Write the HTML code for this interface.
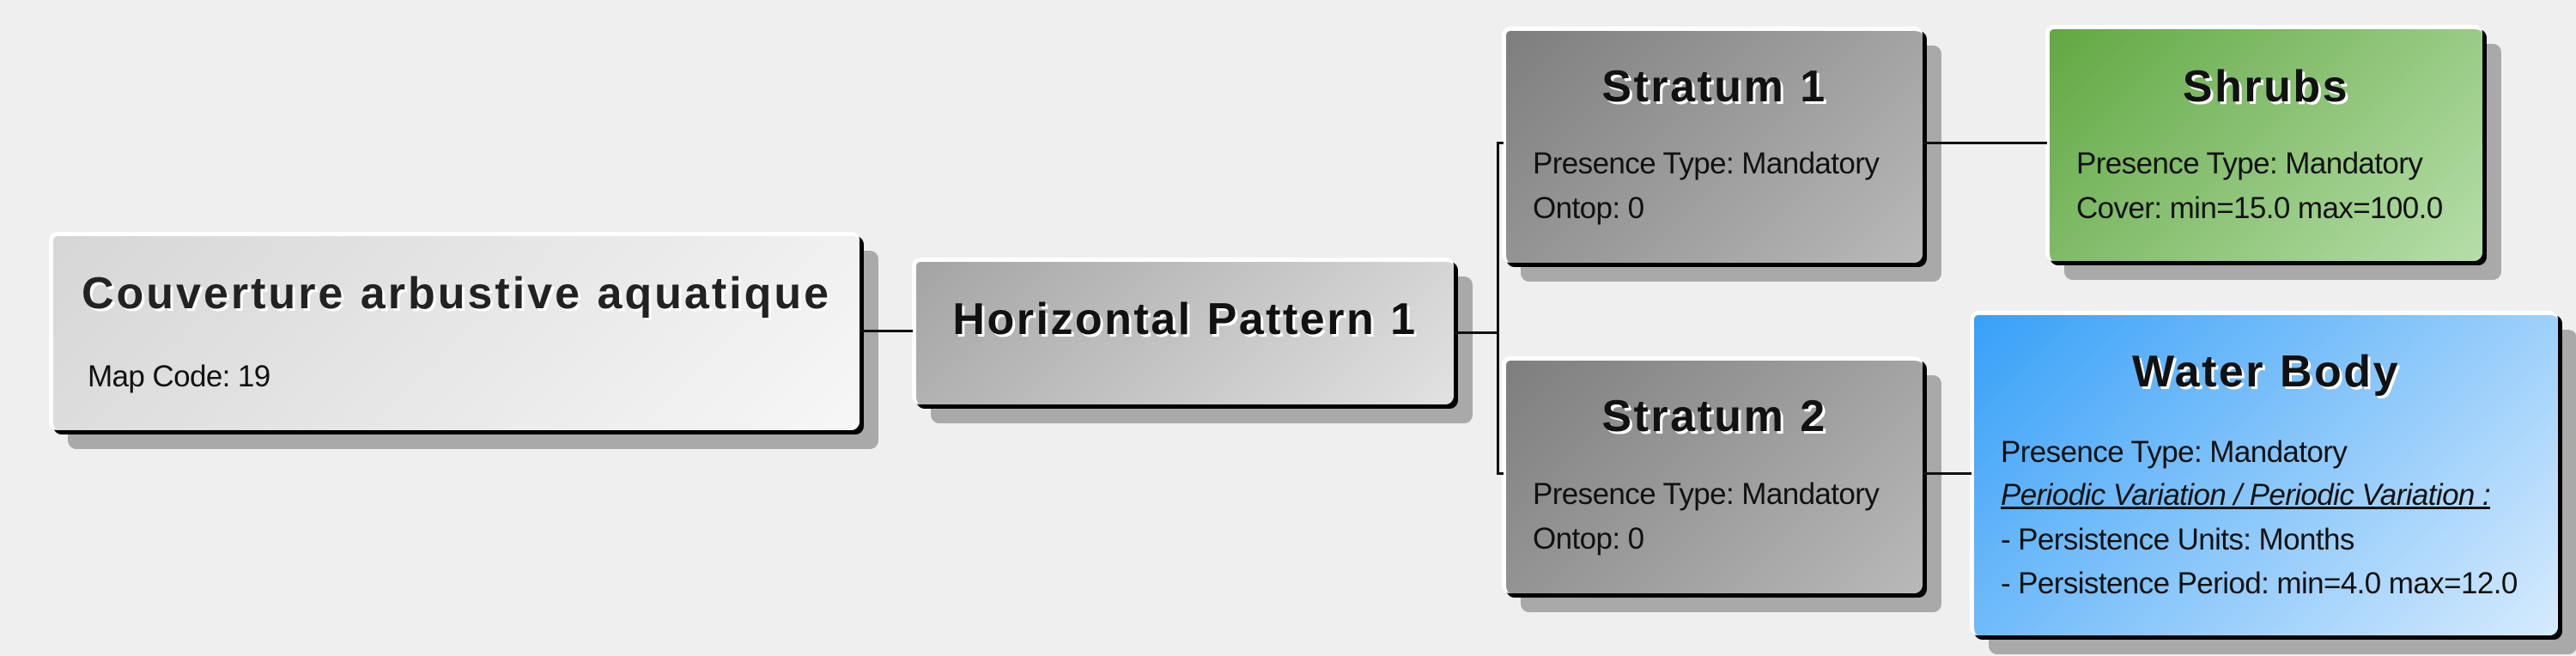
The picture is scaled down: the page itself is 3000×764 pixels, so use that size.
<!DOCTYPE html>
<html><head><meta charset="utf-8"><style>
body{margin:0;width:3000px;height:764px;background:#efefef;position:relative;overflow:hidden;font-family:"Liberation Sans",Arial,sans-serif;}
.b{position:absolute;box-sizing:border-box;border-radius:10px;border-top:5px solid #fff;border-left:5px solid #fff;box-shadow:5px 5px 0 #000,22px 22px 0 #a9a9a9;}
.t{position:absolute;left:-20px;right:-20px;text-align:center;font-weight:bold;color:#111;text-shadow:3px 3px 0 #fff;font-size:52px;letter-spacing:2.5px;line-height:1}
.l{position:absolute;font-size:35px;letter-spacing:-0.6px;color:#111;line-height:1;white-space:nowrap}
.h{position:absolute;height:3px;background:#111;z-index:5}
.v{position:absolute;width:3px;background:#111;z-index:5}
</style></head><body>
<div class="h" style="left:1001px;top:384px;width:62px"></div>
<div class="h" style="left:1693px;top:386px;width:52px"></div>
<div class="v" style="left:1743px;top:166px;height:386px"></div>
<div class="h" style="left:1743px;top:165px;width:8px"></div>
<div class="h" style="left:1743px;top:550px;width:8px"></div>
<div class="h" style="left:2239px;top:165px;width:145px"></div>
<div class="h" style="left:2239px;top:550px;width:57px"></div>

<div class="b" style="left:57px;top:270px;width:944px;height:231px;background:linear-gradient(135deg,#d6d6d6,#f7f7f7)">
<div class="t" style="top:41px;font-size:52px;letter-spacing:3px;color:#222">Couverture arbustive aquatique</div>
<div class="l" style="left:40px;top:146px">Map Code: 19</div></div>

<div class="b" style="left:1062px;top:300px;width:631px;height:171px;background:linear-gradient(135deg,#a4a4a4,#e2e2e2)">
<div class="t" style="top:41px">Horizontal Pattern 1</div></div>

<div class="b" style="left:1749px;top:31px;width:490px;height:275px;background:linear-gradient(135deg,#7e7e7e,#b9b9b9)">
<div class="t" style="top:39px">Stratum 1</div>
<div class="l" style="left:31px;top:137px">Presence Type: Mandatory</div>
<div class="l" style="left:31px;top:189px">Ontop: 0</div></div>

<div class="b" style="left:1749px;top:415px;width:490px;height:276px;background:linear-gradient(135deg,#7e7e7e,#b9b9b9)">
<div class="t" style="top:39px">Stratum 2</div>
<div class="l" style="left:31px;top:138px">Presence Type: Mandatory</div>
<div class="l" style="left:31px;top:190px">Ontop: 0</div></div>

<div class="b" style="left:2382px;top:29px;width:509px;height:275px;background:linear-gradient(135deg,#62a843,#b6dea9)">
<div class="t" style="top:41px">Shrubs</div>
<div class="l" style="left:31px;top:139px">Presence Type: Mandatory</div>
<div class="l" style="left:31px;top:191px">Cover: min=15.0 max=100.0</div></div>

<div class="b" style="left:2294px;top:362px;width:685px;height:378px;background:linear-gradient(135deg,#37a0f8,#d6ebfd)">
<div class="t" style="top:40px">Water Body</div>
<div class="l" style="left:31px;top:142px">Presence Type: Mandatory</div>
<div class="l" style="left:31px;top:192px;font-style:italic;text-decoration:underline">Periodic Variation / Periodic Variation :</div>
<div class="l" style="left:31px;top:244px">- Persistence Units: Months</div>
<div class="l" style="left:31px;top:295px">- Persistence Period: min=4.0 max=12.0</div></div>
</body></html>
